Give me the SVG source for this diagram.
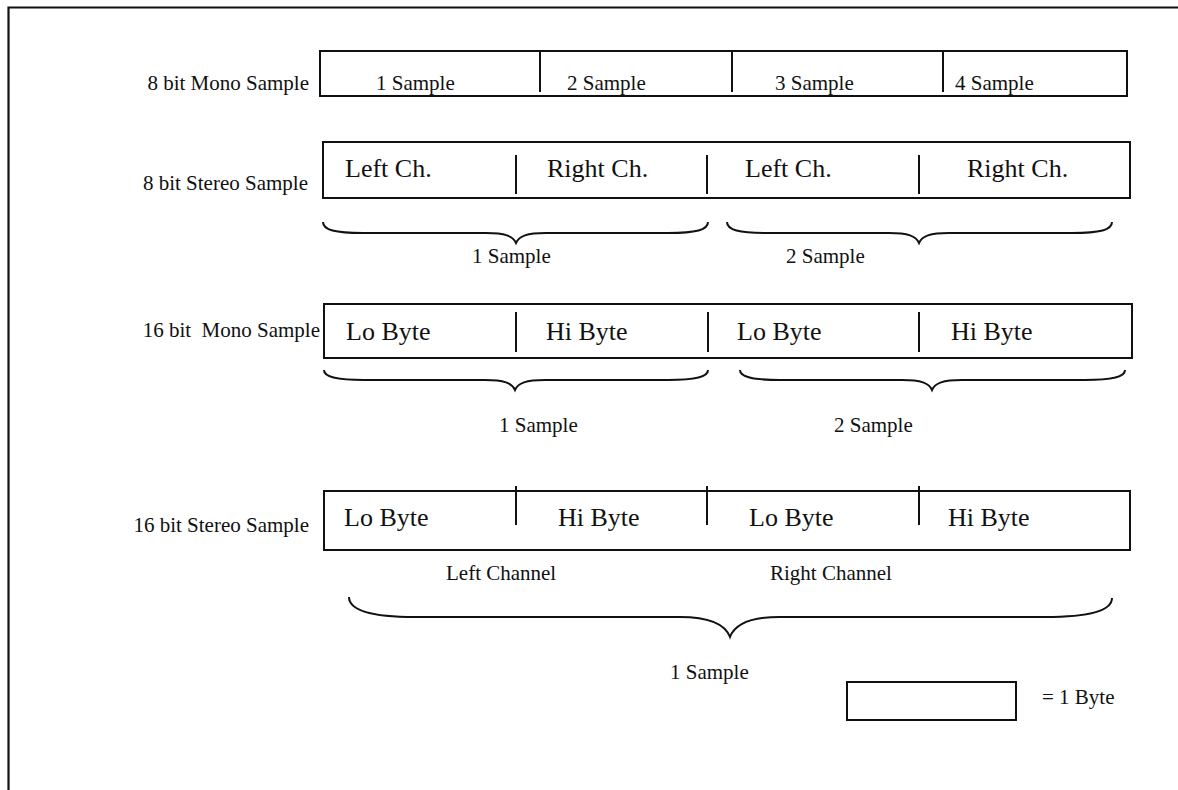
<svg xmlns="http://www.w3.org/2000/svg" width="1178" height="790" viewBox="0 0 1178 790">
<style>
text{font-family:"Liberation Serif","Times New Roman",serif;fill:#111}
.s{font-size:21px}
.b{font-size:26px}
.box{fill:#fff;stroke:#111;stroke-width:2}
.div{stroke:#111;stroke-width:2}
.br{fill:none;stroke:#111;stroke-width:2}
.frame{stroke:#111;stroke-width:2.2;fill:none}
</style>
<rect width="1178" height="790" fill="#fff"/>
<path class="frame" d="M8.5,790 L8.5,7.5 L1178,7.5"/>

<g id="mono8">
<text class="s" x="309" y="90" text-anchor="end">8 bit Mono Sample</text>
<rect class="box" x="320" y="51" width="807" height="45"/>
<line class="div" x1="540" y1="51" x2="540" y2="92"/>
<line class="div" x1="732" y1="51" x2="732" y2="92"/>
<line class="div" x1="943" y1="51" x2="943" y2="92"/>
<text class="s" x="376" y="90">1 Sample</text>
<text class="s" x="567" y="90">2 Sample</text>
<text class="s" x="775" y="90">3 Sample</text>
<text class="s" x="955" y="90">4 Sample</text>
</g>

<g id="stereo8">
<text class="s" x="308" y="190" text-anchor="end">8 bit Stereo Sample</text>
<rect class="box" x="323" y="142" width="807" height="56"/>
<line class="div" x1="516" y1="155" x2="516" y2="194"/>
<line class="div" x1="707" y1="155" x2="707" y2="194"/>
<line class="div" x1="919" y1="155" x2="919" y2="194"/>
<text class="b" x="345" y="177">Left Ch.</text>
<text class="b" x="547" y="177">Right Ch.</text>
<text class="b" x="745" y="177">Left Ch.</text>
<text class="b" x="967" y="177">Right Ch.</text>
<text class="s" x="472" y="263">1 Sample</text>
<text class="s" x="786" y="263">2 Sample</text>
</g>

<g id="mono16">
<text class="s" x="320" y="337" text-anchor="end" style="white-space:pre">16 bit  Mono Sample</text>
<rect class="box" x="324" y="304" width="808" height="54"/>
<line class="div" x1="516" y1="312" x2="516" y2="352"/>
<line class="div" x1="708" y1="312" x2="708" y2="352"/>
<line class="div" x1="919" y1="312" x2="919" y2="352"/>
<text class="b" x="346" y="340">Lo Byte</text>
<text class="b" x="546" y="340">Hi Byte</text>
<text class="b" x="737" y="340">Lo Byte</text>
<text class="b" x="951" y="340">Hi Byte</text>
<text class="s" x="499" y="432">1 Sample</text>
<text class="s" x="834" y="432">2 Sample</text>
</g>

<g id="stereo16">
<text class="s" x="309" y="532" text-anchor="end">16 bit Stereo Sample</text>
<rect class="box" x="324" y="491" width="806" height="59"/>
<line class="div" x1="516" y1="486" x2="516" y2="525"/>
<line class="div" x1="707" y1="486" x2="707" y2="525"/>
<line class="div" x1="919" y1="486" x2="919" y2="525"/>
<text class="b" x="344" y="526">Lo Byte</text>
<text class="b" x="558" y="526">Hi Byte</text>
<text class="b" x="749" y="526">Lo Byte</text>
<text class="b" x="948" y="526">Hi Byte</text>
<text class="s" x="446" y="580">Left Channel</text>
<text class="s" x="770" y="580">Right Channel</text>
<text class="s" x="670" y="679">1 Sample</text>
</g>

<g id="legend">
<rect class="box" x="847" y="682" width="169" height="38"/>
<text class="s" x="1042" y="704">= 1 Byte</text>
</g>

<g id="connectors">
<path class="br" d="M323,222 C323,230 335,233 363,233 L486,233 C505,233 513,236 516,243 C519,236 527,233 546,233 L668,233 C696,233 708,230 708,222"/>
<path class="br" d="M727,222 C727,230 739,233 767,233 L889,233 C908,233 916,236 919,243 C922,236 930,233 949,233 L1072,233 C1100,233 1112,230 1112,222"/>
<path class="br" d="M324,370 C324,377 336,380 364,380 L485,380 C504,380 512,383 515,390 C518,383 526,380 545,380 L668,380 C696,380 708,377 708,370"/>
<path class="br" d="M740,370 C740,377 752,380 780,380 L902,380 C921,380 929,383 932,390 C935,383 943,380 962,380 L1085,380 C1113,380 1125,377 1125,370"/>
<path class="br" d="M349,597 C349,610 370,617 415,617 L680,617 C710,617 725,624 730,637 C735,624 750,617 780,617 L1045,617 C1090,617 1112,611 1112,598"/>
</g>
</svg>
